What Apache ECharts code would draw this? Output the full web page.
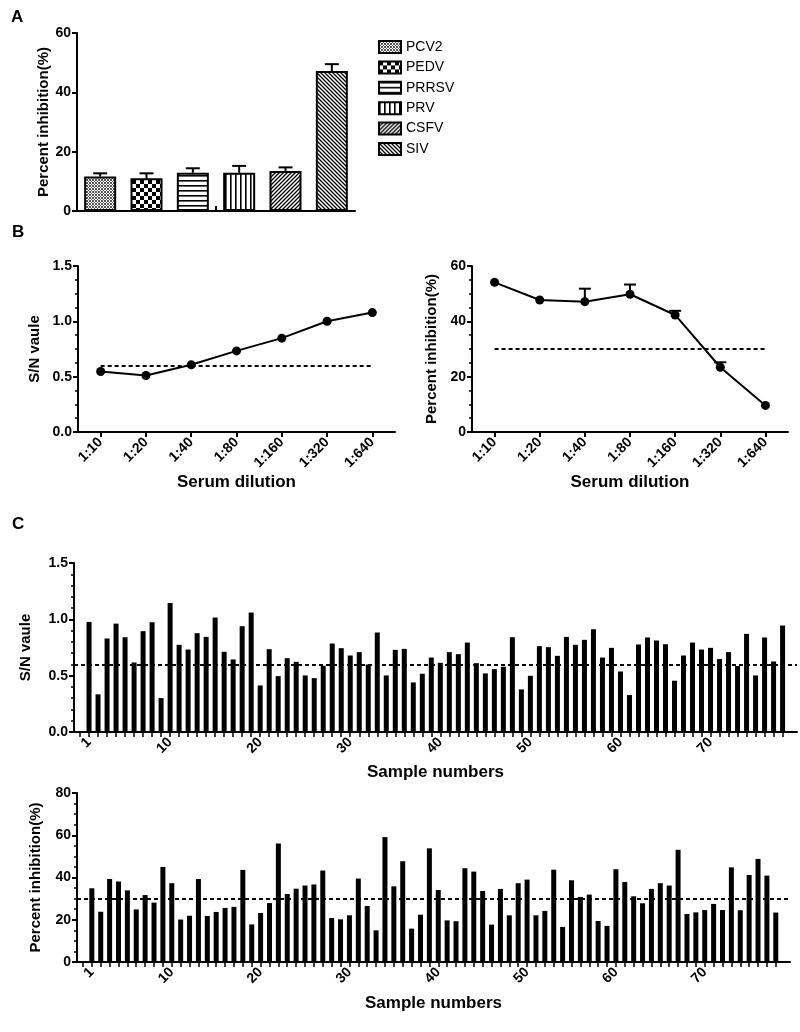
<!DOCTYPE html>
<html><head><meta charset="utf-8">
<script src="https://cdn.jsdelivr.net/npm/echarts@6/dist/echarts.min.js"></script>
<style>html,body{margin:0;padding:0;background:#fff}#c{width:800px;height:1032px}</style>
</head><body><div id="c"></div>
<script>
// ---------- DATA ----------
const virusNames = ['PCV2','PEDV','PRRSV','PRV','CSFV','SIV'];
const virusMean = [11.6, 11.0, 12.9, 12.9, 13.5, 47.2];
const virusErr = [1.1, 1.7, 1.5, 2.3, 1.2, 2.3];

const dilutions = ['1:10','1:20','1:40','1:80','1:160','1:320','1:640'];
const dilutionSN = [0.547, 0.511, 0.607, 0.733, 0.848, 1.001, 1.079];
const dilutionPI = [54.1, 47.7, 47.1, 49.8, 42.3, 23.4, 9.6];
const dilutionPIErr = [0, 0, 4.7, 3.5, 1.5, 1.8, 0];

const snCutoff = 0.6;
const piCutoff = 30;

const sampleSN = [0.977,0.334,0.830,0.962,0.841,0.617,0.895,0.974,0.301,1.146,
  0.774,0.732,0.877,0.844,1.016,0.712,0.644,0.939,1.060,0.413,
  0.735,0.496,0.655,0.623,0.502,0.478,0.588,0.785,0.744,0.679,
  0.709,0.599,0.883,0.502,0.729,0.738,0.440,0.517,0.661,0.614,
  0.709,0.691,0.794,0.611,0.520,0.558,0.579,0.841,0.378,0.499,
  0.762,0.753,0.676,0.844,0.774,0.818,0.912,0.661,0.747,0.537,
  0.328,0.777,0.839,0.812,0.779,0.455,0.679,0.794,0.732,0.747,
  0.647,0.709,0.585,0.871,0.502,0.839,0.626,0.945];
const samplePI = [34.9,23.8,39.3,38.1,33.9,24.9,31.7,28.1,45.0,37.3,
  20.1,21.9,39.3,21.8,23.7,25.6,26.1,43.6,17.8,23.2,
  27.9,56.1,32.2,34.7,36.2,36.7,43.3,20.8,20.2,22.1,
  39.5,26.5,15.0,59.1,35.8,47.7,15.8,22.4,53.8,34.1,
  19.7,19.3,44.4,42.8,33.6,17.7,34.6,22.1,37.3,39.0,
  22.1,24.2,43.7,16.6,38.7,30.8,31.9,19.4,17.1,43.9,
  37.9,31.1,27.8,34.6,37.3,36.2,53.1,22.7,23.5,24.6,
  27.5,24.6,44.8,24.5,41.2,48.8,40.9,23.4];
const sampleTickLabels = [1,10,20,30,40,50,60,70];

// ---------- STYLE HELPERS ----------
const FONT = '"Liberation Sans", Arial, sans-serif';
function pattern(kind){
  const c = document.createElement('canvas');
  const s = {fine:3, checker:8, hlines:5, vlines:5, fwd:4, back:4}[kind];
  c.width = s; c.height = s;
  const g = c.getContext('2d');
  g.fillStyle = '#fff'; g.fillRect(0,0,s,s);
  g.fillStyle = '#000'; g.strokeStyle = '#000';
  if (kind === 'fine'){ g.fillStyle='#555'; g.fillRect(0,0,1,1); g.fillRect(1,1,1,1); g.fillRect(2,2,1,1); g.fillRect(2,0,1,1); g.fillRect(0,2,1,1); }
  else if (kind === 'checker'){ g.fillRect(0,0,4,4); g.fillRect(4,4,4,4); }
  else if (kind === 'hlines'){ g.fillRect(0,0,s,1.6); }
  else if (kind === 'vlines'){ g.fillRect(0,0,1.6,s); }
  else if (kind === 'fwd'){ g.lineWidth = 1.3; g.beginPath(); g.moveTo(-1,s+1); g.lineTo(s+1,-1); g.moveTo(-1,1); g.lineTo(1,-1); g.moveTo(s-1,s+1); g.lineTo(s+1,s-1); g.stroke(); }
  else if (kind === 'back'){ g.lineWidth = 1.3; g.beginPath(); g.moveTo(-1,-1); g.lineTo(s+1,s+1); g.moveTo(s-1,-1); g.lineTo(s+1,1); g.moveTo(-1,s-1); g.lineTo(1,s+1); g.stroke(); }
  return {image: c, repeat: 'repeat'};
}
const patternKinds = ['fine','checker','hlines','vlines','fwd','back'];

const axisLine = {show:true, onZero:false, lineStyle:{color:'#000', width:2}};
const tickLab = {color:'#000', fontFamily:FONT, fontWeight:'bold', fontSize:14};
function yAx(gridIndex, max, interval, minorSplit, name, nameGap, fmt){
  return {type:'value', gridIndex, min:0, max, interval,
    axisLine, axisTick:{show:true, length:5, lineStyle:{width:2, color:'#000'}},
    minorTick:{show: minorSplit>0, splitNumber: minorSplit||5, length:3, lineStyle:{width:1.5, color:'#000'}},
    splitLine:{show:false}, minorSplitLine:{show:false},
    axisLabel:Object.assign({margin:6, formatter: fmt}, tickLab),
    name, nameLocation:'middle', nameGap, nameRotate:90,
    nameTextStyle:{color:'#000', fontFamily:FONT, fontWeight:'bold', fontSize:15}};
}
function errBar(cap){
  return function(params, api){
    const x = api.value(0), lo = api.value(1), hi = api.value(2);
    const p0 = api.coord([x, lo]), p1 = api.coord([x, hi]);
    const st = {stroke:'#000', lineWidth:2};
    return {type:'group', children:[
      {type:'line', shape:{x1:p0[0], y1:p0[1], x2:p1[0], y2:p1[1]}, style:st},
      {type:'line', shape:{x1:p1[0]-cap/2, y1:p1[1], x2:p1[0]+cap/2, y2:p1[1]}, style:st}
    ]};
  };
}
const dashStyle = {color:'#000', width:2, type:[4,3]};

// ---------- SERIES ----------
const series = [];
virusNames.forEach((nm, i) => {
  series.push({type:'bar', name:nm, xAxisIndex:0, yAxisIndex:0, barWidth:32, barGap:'-100%',
    data: virusNames.map((_, j) => j === i ? virusMean[i] : '-'),
    itemStyle:{color: pattern(patternKinds[i]), borderColor:'#000', borderWidth:2}, z:2});
});
series.push({type:'custom', xAxisIndex:0, yAxisIndex:0, renderItem: errBar(14), z:3,
  encode:{x:0, y:[1,2]},
  data: virusNames.map((_, i) => [i, virusMean[i], virusMean[i] + virusErr[i]])});

series.push({type:'line', xAxisIndex:2, yAxisIndex:1, data: dilutionSN, symbol:'circle', symbolSize:9,
  itemStyle:{color:'#000'}, lineStyle:{color:'#000', width:2}, z:3,
  markLine:{symbol:'none', silent:true, label:{show:false}, lineStyle:dashStyle,
    data:[[{coord:[dilutions[0], snCutoff]}, {coord:[dilutions[dilutions.length-1], snCutoff]}]]}});

series.push({type:'line', xAxisIndex:3, yAxisIndex:2, data: dilutionPI, symbol:'circle', symbolSize:9,
  itemStyle:{color:'#000'}, lineStyle:{color:'#000', width:2}, z:3,
  markLine:{symbol:'none', silent:true, label:{show:false}, lineStyle:dashStyle,
    data:[[{coord:[dilutions[0], piCutoff]}, {coord:[dilutions[dilutions.length-1], piCutoff]}]]}});
series.push({type:'custom', xAxisIndex:3, yAxisIndex:2, renderItem: errBar(12), z:4,
  encode:{x:0, y:[1,2]},
  data: dilutions.map((_, i) => [i, dilutionPI[i], dilutionPI[i] + dilutionPIErr[i]]).filter((d, i) => dilutionPIErr[i] > 0)});

series.push({type:'bar', xAxisIndex:4, yAxisIndex:3, barWidth:5,
  data: sampleSN.map((v, i) => [i + 1, v]), itemStyle:{color:'#000'},
  markLine:{symbol:'none', silent:true, label:{show:false}, lineStyle:dashStyle, data:[{yAxis: snCutoff}]}});
series.push({type:'bar', xAxisIndex:5, yAxisIndex:4, barWidth:5,
  data: samplePI.map((v, i) => [i + 1, v]), itemStyle:{color:'#000'},
  markLine:{symbol:'none', silent:true, label:{show:false}, lineStyle:dashStyle, data:[{yAxis: piCutoff}]}});

const sampleTicks = [0].concat(sampleSN.map((_, i) => i + 1));
const xName = (name, gap) => ({name, nameLocation:'middle', nameGap:gap,
  nameTextStyle:{color:'#000', fontFamily:FONT, fontWeight:'bold', fontSize:17}});

const option = {
  animation:false,
  backgroundColor:'#fff',
  title:[
    {text:'A', left:6, top:4, textStyle:{fontFamily:FONT, fontWeight:'bold', fontSize:17, color:'#000'}},
    {text:'B', left:7, top:219, textStyle:{fontFamily:FONT, fontWeight:'bold', fontSize:17, color:'#000'}},
    {text:'C', left:7, top:511, textStyle:{fontFamily:FONT, fontWeight:'bold', fontSize:17, color:'#000'}}
  ],
  legend:{orient:'vertical', left:373, top:35, itemWidth:22, itemHeight:12, itemGap:6.4, icon:'rect',
    data: virusNames, textStyle:{fontFamily:FONT, fontSize:14, color:'#000'}, selectedMode:false},
  grid:[
    {left:77, top:33, width:278, height:178},
    {left:78, top:266, width:317, height:166},
    {left:472, top:266, width:316, height:166},
    {left:74, top:563, width:723, height:169},
    {left:77, top:793, width:713, height:169}
  ],
  xAxis:[
    {type:'category', gridIndex:0, data: virusNames, axisLine, axisTick:{show:false}, axisLabel:{show:false}},
    {type:'value', gridIndex:0, min:0, max:1, axisLine:{show:false}, splitLine:{show:false}, axisLabel:{show:false},
      axisTick:{show:true, length:5, lineStyle:{width:2, color:'#000'}, customValues:[0.5]}},
    Object.assign({type:'category', gridIndex:1, data: dilutions, axisLine,
      axisTick:{show:true, alignWithLabel:true, length:5, lineStyle:{width:2, color:'#000'}},
      axisLabel:Object.assign({rotate:45, margin:8, interval:0}, tickLab)}, xName('Serum dilution', 42)),
    Object.assign({type:'category', gridIndex:2, data: dilutions, axisLine,
      axisTick:{show:true, alignWithLabel:true, length:5, lineStyle:{width:2, color:'#000'}},
      axisLabel:Object.assign({rotate:45, margin:8, interval:0}, tickLab)}, xName('Serum dilution', 42)),
    Object.assign({type:'value', gridIndex:3, min:-0.67, max:79.6, axisLine, splitLine:{show:false},
      axisTick:{show:true, length:5, lineStyle:{width:1.5, color:'#000'}, customValues: sampleTicks},
      axisLabel:Object.assign({rotate:45, margin:8, customValues: sampleTickLabels}, tickLab)}, xName('Sample numbers', 32)),
    Object.assign({type:'value', gridIndex:4, min:-0.67, max:79.6, axisLine, splitLine:{show:false},
      axisTick:{show:true, length:5, lineStyle:{width:1.5, color:'#000'}, customValues: sampleTicks},
      axisLabel:Object.assign({rotate:45, margin:8, customValues: sampleTickLabels}, tickLab)}, xName('Sample numbers', 33))
  ],
  yAxis:[
    yAx(0, 60, 20, 0, 'Percent inhibition(%)', 25),
    yAx(1, 1.5, 0.5, 4, 'S/N vaule', 36, v => v.toFixed(1)),
    yAx(2, 60, 20, 4, 'Percent inhibition(%)', 33),
    yAx(3, 1.5, 0.5, 5, 'S/N vaule', 41, v => v.toFixed(1)),
    yAx(4, 80, 20, 4, 'Percent inhibition(%)', 34)
  ],
  series
};
const chart = echarts.init(document.getElementById('c'), null, {renderer:'canvas'});
chart.setOption(option);
</script></body></html>
